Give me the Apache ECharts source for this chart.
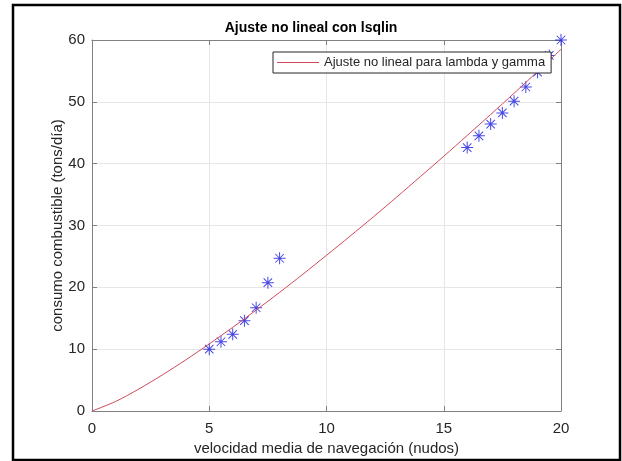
<!DOCTYPE html>
<html>
<head>
<meta charset="utf-8">
<script src="https://cdn.jsdelivr.net/npm/echarts@6/dist/echarts.min.js"></script>
<style>
html,body{margin:0;padding:0;background:#fff;}
#chart{width:622px;height:461px;}
</style>
</head>
<body>
<div id="chart"></div>
<script>
// Measured data (stars)
const speedData = [5, 5.5, 6, 6.5, 7, 7.5, 8, 16, 16.5, 17, 17.5, 18, 18.5, 19, 19.5, 20];
const fuelData = [10.0, 11.2, 12.4, 14.6, 16.7, 20.75, 24.7, 42.6, 44.5, 46.4, 48.2, 50.1, 52.4, 54.8, 57.5, 60.0];
// Fitted curve
const fitSpeed = [0, 1, 2, 3, 4, 5, 6, 7, 8, 9, 10, 11, 12, 13, 14, 15, 16, 17, 18, 19, 20];
const fitFuel = [0, 1.53, 3.56, 5.83, 8.27, 10.85, 13.53, 16.32, 19.18, 22.14, 25.18, 28.26, 31.4, 34.62, 37.9, 41.19, 44.56, 47.95, 51.39, 54.9, 58.5];
const xTicks = [0, 5, 10, 15, 20];
const yTicks = [0, 10, 20, 30, 40, 50, 60];

const titleText = 'Ajuste no lineal con lsqlin';
const fitName = 'Ajuste no lineal para lambda y gamma';
const dataName = 'Datos';
const xName = 'velocidad media de navegación (nudos)';
const yName = 'consumo combustible (tons/día)';

const FONT = '"Liberation Sans", Arial, Helvetica, sans-serif';
const AXC = '#808080';
const TXT = '#262626';
const LINEC = '#cc4a5a';

const star = 'path://M11 0 H13 V24 H11 Z M0 11 H24 V13 H0 Z M2.8 4.2 L4.2 2.8 L21.2 19.8 L19.8 21.2 Z M19.8 2.8 L21.2 4.2 L4.2 21.2 L2.8 19.8 Z';

const chart = echarts.init(document.getElementById('chart'), null, {renderer: 'canvas'});

const baseX = {
  type: 'value', min: xTicks[0], max: xTicks[xTicks.length - 1], interval: 5
};
const baseY = {
  type: 'value', min: yTicks[0], max: yTicks[yTicks.length - 1], interval: 10
};

chart.setOption({
  animation: false,
  backgroundColor: '#fff',
  textStyle: {fontFamily: FONT},
  title: {
    text: titleText,
    left: 'center',
    top: 21,
    padding: 0,
    textStyle: {fontFamily: FONT, fontSize: 14, fontWeight: 'bold', color: '#000'}
  },
  legend: {
    data: [{name: fitName, icon: 'rect', itemStyle: {color: LINEC}}],
    left: 273,
    top: 52,
    orient: 'horizontal',
    backgroundColor: '#fff',
    borderColor: '#262626',
    borderWidth: 1,
    borderRadius: 0,
    padding: [4, 6, 4, 4],
    itemWidth: 42,
    itemHeight: 1,
    itemGap: 4,
    textStyle: {fontFamily: FONT, fontSize: 13, color: TXT, lineHeight: 13}
  },
  grid: {left: 92, right: 61, top: 40, bottom: 50, containLabel: false},
  xAxis: [
    Object.assign({}, baseX, {
      position: 'bottom',
      name: xName,
      nameLocation: 'middle',
      nameGap: 28,
      nameTextStyle: {fontFamily: FONT, fontSize: 15, color: TXT},
      axisLine: {show: true, onZero: false, lineStyle: {color: AXC, width: 1}},
      axisTick: {show: true, inside: true, length: 5, lineStyle: {color: AXC}},
      axisLabel: {margin: 10, fontFamily: FONT, fontSize: 15, color: TXT},
      splitLine: {show: true, lineStyle: {color: '#e6e6e6', width: 1}}
    }),
    Object.assign({}, baseX, {
      position: 'top',
      axisLine: {show: true, onZero: false, lineStyle: {color: AXC, width: 1}},
      axisTick: {show: true, inside: true, length: 5, lineStyle: {color: AXC}},
      axisLabel: {show: false},
      splitLine: {show: false}
    })
  ],
  yAxis: [
    Object.assign({}, baseY, {
      position: 'left',
      name: yName,
      nameLocation: 'middle',
      nameGap: 27,
      nameMoveOverlap: false,
      nameTextStyle: {fontFamily: FONT, fontSize: 15, color: TXT},
      axisLine: {show: true, onZero: false, lineStyle: {color: AXC, width: 1}},
      axisTick: {show: true, inside: true, length: 5, lineStyle: {color: AXC}},
      axisLabel: {margin: 7, fontFamily: FONT, fontSize: 15, color: TXT},
      splitLine: {show: true, lineStyle: {color: '#e6e6e6', width: 1}}
    }),
    Object.assign({}, baseY, {
      position: 'right',
      axisLine: {show: true, onZero: false, lineStyle: {color: AXC, width: 1}},
      axisTick: {show: true, inside: true, length: 5, lineStyle: {color: AXC}},
      axisLabel: {show: false},
      splitLine: {show: false}
    })
  ],
  series: [
    {
      name: fitName,
      type: 'line',
      xAxisIndex: 0, yAxisIndex: 0,
      data: fitSpeed.map((v, i) => [v, fitFuel[i]]),
      smooth: 0.3,
      symbol: 'none',
      lineStyle: {color: LINEC, width: 1},
      itemStyle: {color: LINEC},
      z: 3
    },
    {
      name: dataName,
      type: 'scatter',
      xAxisIndex: 0, yAxisIndex: 0,
      data: speedData.map((v, i) => [v, fuelData[i]]),
      symbol: star,
      symbolSize: 12,
      symbolKeepAspect: true,
      itemStyle: {color: '#1a1ae0'},
      z: 2
    }
  ],
  graphic: [
    {
      type: 'rect',
      shape: {x: 13, y: 5, width: 607, height: 455},
      style: {fill: 'none', stroke: '#000', lineWidth: 2.5},
      silent: true,
      z: 100
    }
  ]
});
</script>
</body>
</html>
